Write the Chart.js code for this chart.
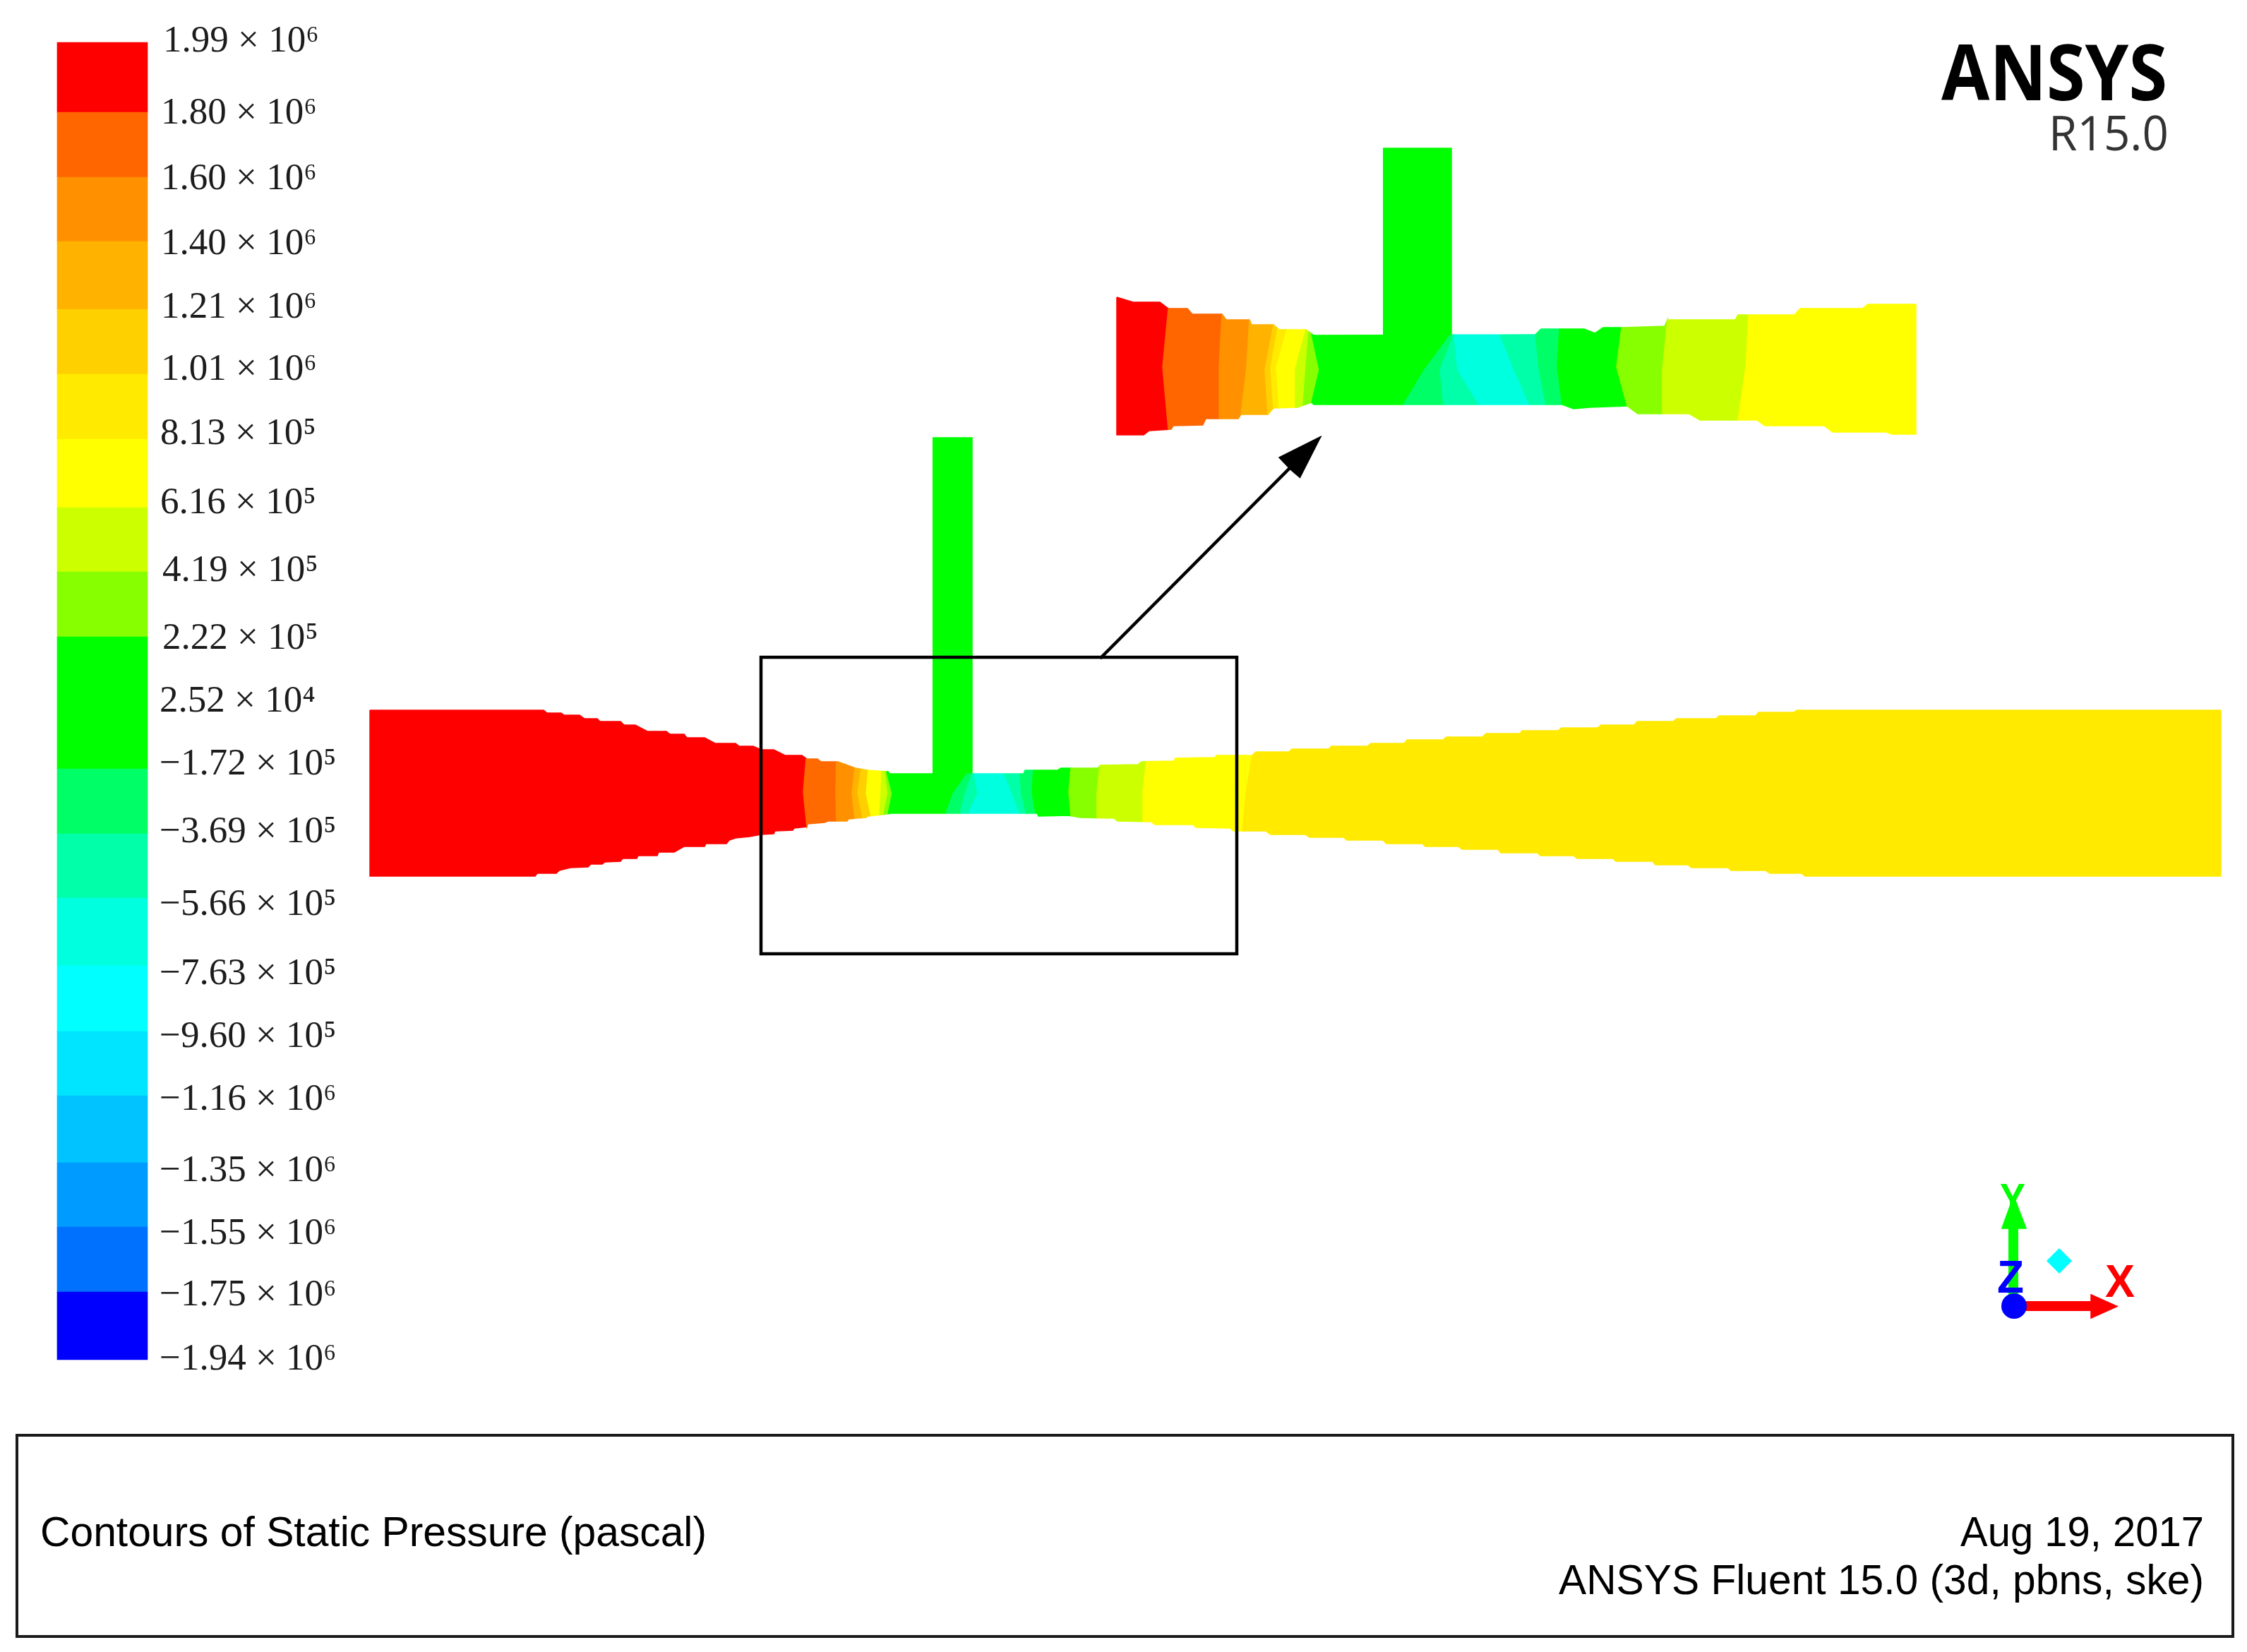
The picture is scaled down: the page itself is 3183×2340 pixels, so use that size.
<!DOCTYPE html>
<html lang="en">
<head>
    <meta charset="UTF-8">
    <title>Contours of Static Pressure</title>
    <script src="https://cdn.jsdelivr.net/npm/chart.js@4"></script>
    <style>
        html, body { margin: 0; padding: 0; background: #fff; }
        canvas { display: block; }
    </style>
</head>
<body>
<canvas id="chartJSContainer" width="3183" height="2340"></canvas>

<script>
    // colour bar
    const barColors = ['#ff0000','#ff6600','#ff9100','#ffb200','#ffd000','#ffea00','#ffff00','#ccff00','#88ff00','#00ff00',
                       '#00ff66','#00ffa8','#00ffdf','#00ffff','#00e5ff','#00c3ff','#009bff','#0070ff','#0000ff'];
    const barEdges = [60,159,251,342,438,530,622,719,810,902,1089,1181,1272,1368,1461,1552,1647,1738,1830,1926];
    const barLabels = ['1.99 × 10⁶','1.80 × 10⁶','1.60 × 10⁶','1.40 × 10⁶','1.21 × 10⁶','1.01 × 10⁶','8.13 × 10⁵','6.16 × 10⁵','4.19 × 10⁵','2.22 × 10⁵','2.52 × 10⁴',
                       '−1.72 × 10⁵','−3.69 × 10⁵','−5.66 × 10⁵','−7.63 × 10⁵','−9.60 × 10⁵','−1.16 × 10⁶','−1.35 × 10⁶','−1.55 × 10⁶','−1.75 × 10⁶','−1.94 × 10⁶'];
    const barLabelY = [73,175,268,360,450,538,629,727,823,919,1008,1097,1193,1296,1394,1483,1572,1673,1762,1849,1940];
    const barLabelX = [231,228,228,228,228,228,227,227,230,230,226,226,226,226,226,226,226,226,226,226,226];

    // full nozzle outline
    const mainTop = [[524,1006],[770,1006],[775,1010],[795,1010],[799,1013],[821,1013],[828,1018],[846,1018],[850,1022],[879,1022],[884,1027],[900,1027],
        [917,1036],[944,1036],[949,1040],[969,1040],[973,1045],[998,1045],[1013,1053],[1042,1053],[1047,1057],[1067,1057],[1078,1062],[1096,1062],[1112,1070],[1136,1070],
        [1143,1075],[1158,1075],[1163,1079],[1187,1079],[1212,1088],[1229,1091],[1258,1093],[1260,1096],[1450,1096],[1452,1091],[1498,1091],[1503,1088],[1555,1088],
        [1559,1084],[1612,1083],[1617,1079],[1663,1078],[1665,1074],[1721,1073],[1723,1070],[1774,1070],[1779,1065],[1826,1065],[1830,1061],[1882,1061],[1886,1057],
        [1937,1057],[1942,1053],[1989,1053],[1993,1048],[2044,1048],[2049,1044],[2100,1044],[2105,1039],[2153,1039],[2156,1035],[2207,1035],[2212,1031],[2263,1031],
        [2268,1027],[2315,1027],[2319,1022],[2370,1022],[2375,1018],[2431,1018],[2435,1014],[2487,1014],[2491,1009],[2541,1009],[2545,1006],[3146,1006]];
    const mainBottom = [[524,1241],[758,1241],[761,1237],[788,1237],[792,1233],[808,1229],[833,1228],[837,1224],[853,1224],[857,1221],[879,1220],[882,1216],[902,1216],
        [904,1212],[931,1212],[933,1207],[955,1207],[969,1199],[998,1199],[1000,1195],[1029,1195],[1033,1190],[1042,1187],[1062,1185],[1078,1182],[1096,1181],[1098,1177],
        [1123,1176],[1125,1173],[1143,1171],[1144,1167],[1168,1165],[1173,1163],[1200,1163],[1202,1160],[1227,1158],[1229,1156],[1248,1154],[1263,1152],[1469,1152],
        [1471,1156],[1513,1155],[1530,1158],[1578,1159],[1583,1163],[1631,1164],[1636,1168],[1690,1168],[1694,1172],[1743,1173],[1747,1177],[1793,1177],[1800,1182],
        [1849,1182],[1855,1186],[1903,1186],[1908,1190],[1959,1190],[1964,1195],[2015,1195],[2019,1199],[2066,1199],[2071,1203],[2122,1203],[2126,1208],[2178,1208],
        [2182,1212],[2229,1212],[2234,1216],[2285,1216],[2289,1220],[2341,1220],[2345,1225],[2391,1225],[2396,1229],[2448,1229],[2452,1233],[2501,1233],[2507,1237],
        [2552,1237],[2557,1241],[3146,1241]];
    const mainPipe = [[1321,620],[1377,620],[1377,1100],[1321,1100]];
    const mainColors = ['#ff0000','#ff6a00','#ff9100','#ffb200','#ffd000','#ffff00','#ccff00','#88ff00','#00ff00','#00ff66','#00ffa8','#00ffdf',
                        '#00ffa8','#00ff66','#00ff00','#88ff00','#ccff00','#ffff00','#ffea00'];
    // contour boundaries: x at top wall, centre line, bottom wall
    const mainBounds = [[1142,1138,1143],[1185,1184,1185],[1211,1207,1211],[1220,1215,1222],[1230,1227,1234],[1249,1248,1246],[1254,1258,1252],[1256,1264,1258],
        [1370,1350,1340],[1377,1367,1360],[1380,1385,1372],[1423,1434,1445],[1445,1447,1454],[1464,1462,1467],[1517,1514,1517],[1558,1554,1554],[1624,1619,1619],[1774,1765,1760]];

    // enlarged throat
    const insetTop = [[1582,421],[1605,428],[1643,428],[1655,437],[1682,437],[1689,445],[1731,445],[1737,453],[1770,453],[1773,460],[1804,460],[1812,467],[1850,467],[1861,475],
        [2175,474],[2183,466],[2244,466],[2259,472],[2271,464],[2296,464],[2300,464],[2358,462],[2362,453],[2458,453],[2462,446],[2542,446],[2550,437],[2638,437],[2646,431],[2714,431]];
    const insetBottom = [[1582,616],[1620,616],[1628,610],[1659,608],[1662,603],[1704,602],[1708,593],[1754,593],[1758,587],[1796,587],[1804,578],[1838,577],[1858,570],[1861,573],
        [2213,573],[2229,579],[2252,577],[2305,575],[2320,586],[2393,586],[2408,595],[2489,595],[2500,603],[2584,603],[2596,612],[2672,612],[2680,615],[2714,615]];
    const insetPipe = [[1959,210],[2056,210],[2056,480],[1959,480]];
    const insetColors = ['#ff0000','#ff6600','#ff9100','#ffb200','#ffd000','#ffea00','#ffff00','#ccff00','#88ff00','#00ff00','#00ff66','#00ffa8','#00ffdf',
                         '#00ffa8','#00ff66','#00ff00','#88ff00','#ccff00','#ffff00'];
    const insetBounds = [[1655,1647,1655],[1731,1727,1727],[1770,1766,1758],[1804,1792,1796],[1810,1800,1804],[1823,1808,1812],[1850,1835,1835],[1854,1850,1846],[1858,1869,1858],
        [2054,2018,1988],[2059,2040,2045],[2060,2065,2095],[2125,2145,2167],[2175,2180,2190],[2209,2206,2213],[2297,2290,2305],[2362,2355,2355],[2477,2473,2462]];

    // annotations
    const zoomBox = [[1078,931],[1752,931],[1752,1351],[1078,1351],[1078,931]];
    const arrowLine = [[1560,931],[1830,660]];
    const arrowHead = [[1872,618],[1812,648],[1828,665],[1842,677]];
    const titleBox = [[24,2033],[3163,2033],[3163,2318],[24,2318],[24,2033]];

    // triad
    const yShaft = [[2852,1850],[2852,1735]];
    const yHead = [[2852,1693],[2870,1740],[2835,1740]];
    const xShaft = [[2853,1850],[2965,1850]];
    const xHead = [[3000,1850],[2962,1867],[2962,1833]];
    const originPoint = [[2853,1850]];
    const markerPoint = [[2917,1786]];

    const titleLeft = 'Contours of Static Pressure (pascal)';
    const dateText = 'Aug 19, 2017';
    const solverText = 'ANSYS Fluent 15.0 (3d, pbns, ske)';

    function toPoints(list) {
        return list.map(p => ({ x: p[0], y: p[1] }));
    }

    function polygon(list, color) {
        return { type: 'scatter', data: toPoints(list), showLine: true, fill: 'shape', backgroundColor: color, borderColor: color, borderWidth: 1.5, pointRadius: 0 };
    }

    function polyline(list, color, width) {
        return { type: 'scatter', data: toPoints(list), showLine: true, fill: false, borderColor: color, borderWidth: width, pointRadius: 0, borderCapStyle: 'square' };
    }

    function edgeY(edge, x) {
        for (let i = 1; i < edge.length; i++) {
            if (x <= edge[i][0]) {
                const a = edge[i - 1], b = edge[i];
                return a[1] + (b[1] - a[1]) * (x - a[0]) / ((b[0] - a[0]) || 1);
            }
        }
        return edge[edge.length - 1][1];
    }

    function sliceEdge(edge, x0, x1) {
        const out = [[x0, edgeY(edge, x0)]];
        edge.forEach(p => { if (p[0] > x0 && p[0] < x1) out.push(p); });
        out.push([x1, edgeY(edge, x1)]);
        return out;
    }

    // one contour band of the nozzle, cut from the wall outlines
    function bandPolygons(top, bottom, bounds, colors) {
        const first = top[0][0], last = top[top.length - 1][0];
        return colors.map((color, i) => {
            const l = i === 0 ? [first, first, first] : bounds[i - 1];
            const r = i === colors.length - 1 ? [last, last, last] : bounds[i];
            const midY = x => (edgeY(top, x) + edgeY(bottom, x)) / 2;
            const pts = sliceEdge(top, l[0], r[0]);
            pts.push([r[1], midY(r[1])]);
            pts.push(...sliceEdge(bottom, l[2], r[2]).reverse());
            pts.push([l[1], midY(l[1])]);
            pts.push(pts[0]);
            return polygon(pts, color);
        });
    }

    const barDataset = {
        type: 'bar',
        data: barColors.map((c, i) => ({ x: 145, y: [barEdges[i], barEdges[i + 1]] })),
        backgroundColor: barColors,
        borderWidth: 0,
        barThickness: 128,
        grouped: false
    };

    const datasets = [
        barDataset,
        polygon(mainPipe, '#00ff00'),
        ...bandPolygons(mainTop, mainBottom, mainBounds, mainColors),
        polygon(insetPipe, '#00ff00'),
        ...bandPolygons(insetTop, insetBottom, insetBounds, insetColors),
        polyline(zoomBox, '#000000', 4.5),
        polyline(arrowLine, '#000000', 4.5),
        polygon(arrowHead, '#000000'),
        polyline(titleBox, '#1a1a1a', 4),
        polyline(yShaft, '#00ff00', 14),
        polygon(yHead, '#00ff00'),
        polyline(xShaft, '#ff0000', 14),
        polygon(xHead, '#ff0000'),
        { type: 'scatter', data: toPoints(originPoint), pointRadius: 18, pointBackgroundColor: '#0000ff', pointBorderWidth: 0 },
        { type: 'scatter', data: toPoints(markerPoint), pointRadius: 18, pointStyle: 'rectRot', pointBackgroundColor: '#00ffff', pointBorderWidth: 0 }
    ];
    // chart.js paints low order last, keep array order as paint order
    datasets.forEach((d, i) => { d.order = datasets.length - i; });

    const textPlugin = {
        id: 'figureText',
        afterDatasetsDraw(chart) {
            const ctx = chart.ctx;
            const sx = chart.scales.x, sy = chart.scales.y;
            const put = (text, x, y, font, color, align, maxWidth) => {
                ctx.font = font;
                ctx.fillStyle = color;
                ctx.textAlign = align || 'left';
                ctx.textBaseline = 'alphabetic';
                if (maxWidth) ctx.fillText(text, sx.getPixelForValue(x), sy.getPixelForValue(y), maxWidth);
                else ctx.fillText(text, sx.getPixelForValue(x), sy.getPixelForValue(y));
            };
            ctx.save();
            barLabels.forEach((t, i) => put(t, barLabelX[i], barLabelY[i], '53px "Liberation Serif"', '#1c1c1c'));
            put('ANSYS', 2750, 142, 'bold 110px "Open Sans"', '#000000', 'left', 320);
            put('R15.0', 2902, 213, '67px "Open Sans"', '#333333', 'left', 170);
            put(titleLeft, 57, 2190, '59px "Liberation Sans"', '#000000', 'left', 944);
            put(dateText, 3122, 2190, '59px "Liberation Sans"', '#000000', 'right', 345);
            put(solverText, 3122, 2258, '59px "Liberation Sans"', '#000000', 'right', 914);
            put('Y', 2851, 1719, 'bold 62px "Liberation Sans"', '#00ff00', 'center', 36);
            put('Z', 2848, 1831, 'bold 64px "Liberation Sans"', '#0000ff', 'center', 38);
            put('X', 3003, 1837, 'bold 64px "Liberation Sans"', '#ff0000', 'center', 42);
            ctx.restore();
        }
    };

    const ctx = document.getElementById('chartJSContainer').getContext('2d');
    const chart = new Chart(ctx, {
        type: 'scatter',
        data: { datasets: datasets },
        options: {
            responsive: false,
            animation: false,
            layout: { padding: 0, autoPadding: false },
            plugins: { legend: { display: false }, tooltip: { enabled: false } },
            elements: { line: { tension: 0 } },
            scales: {
                x: { type: 'linear', min: 0, max: 3183, offset: false, display: false },
                y: { type: 'linear', min: 0, max: 2340, reverse: true, display: false }
            }
        },
        plugins: [textPlugin]
    });
</script>
</body>
</html>
